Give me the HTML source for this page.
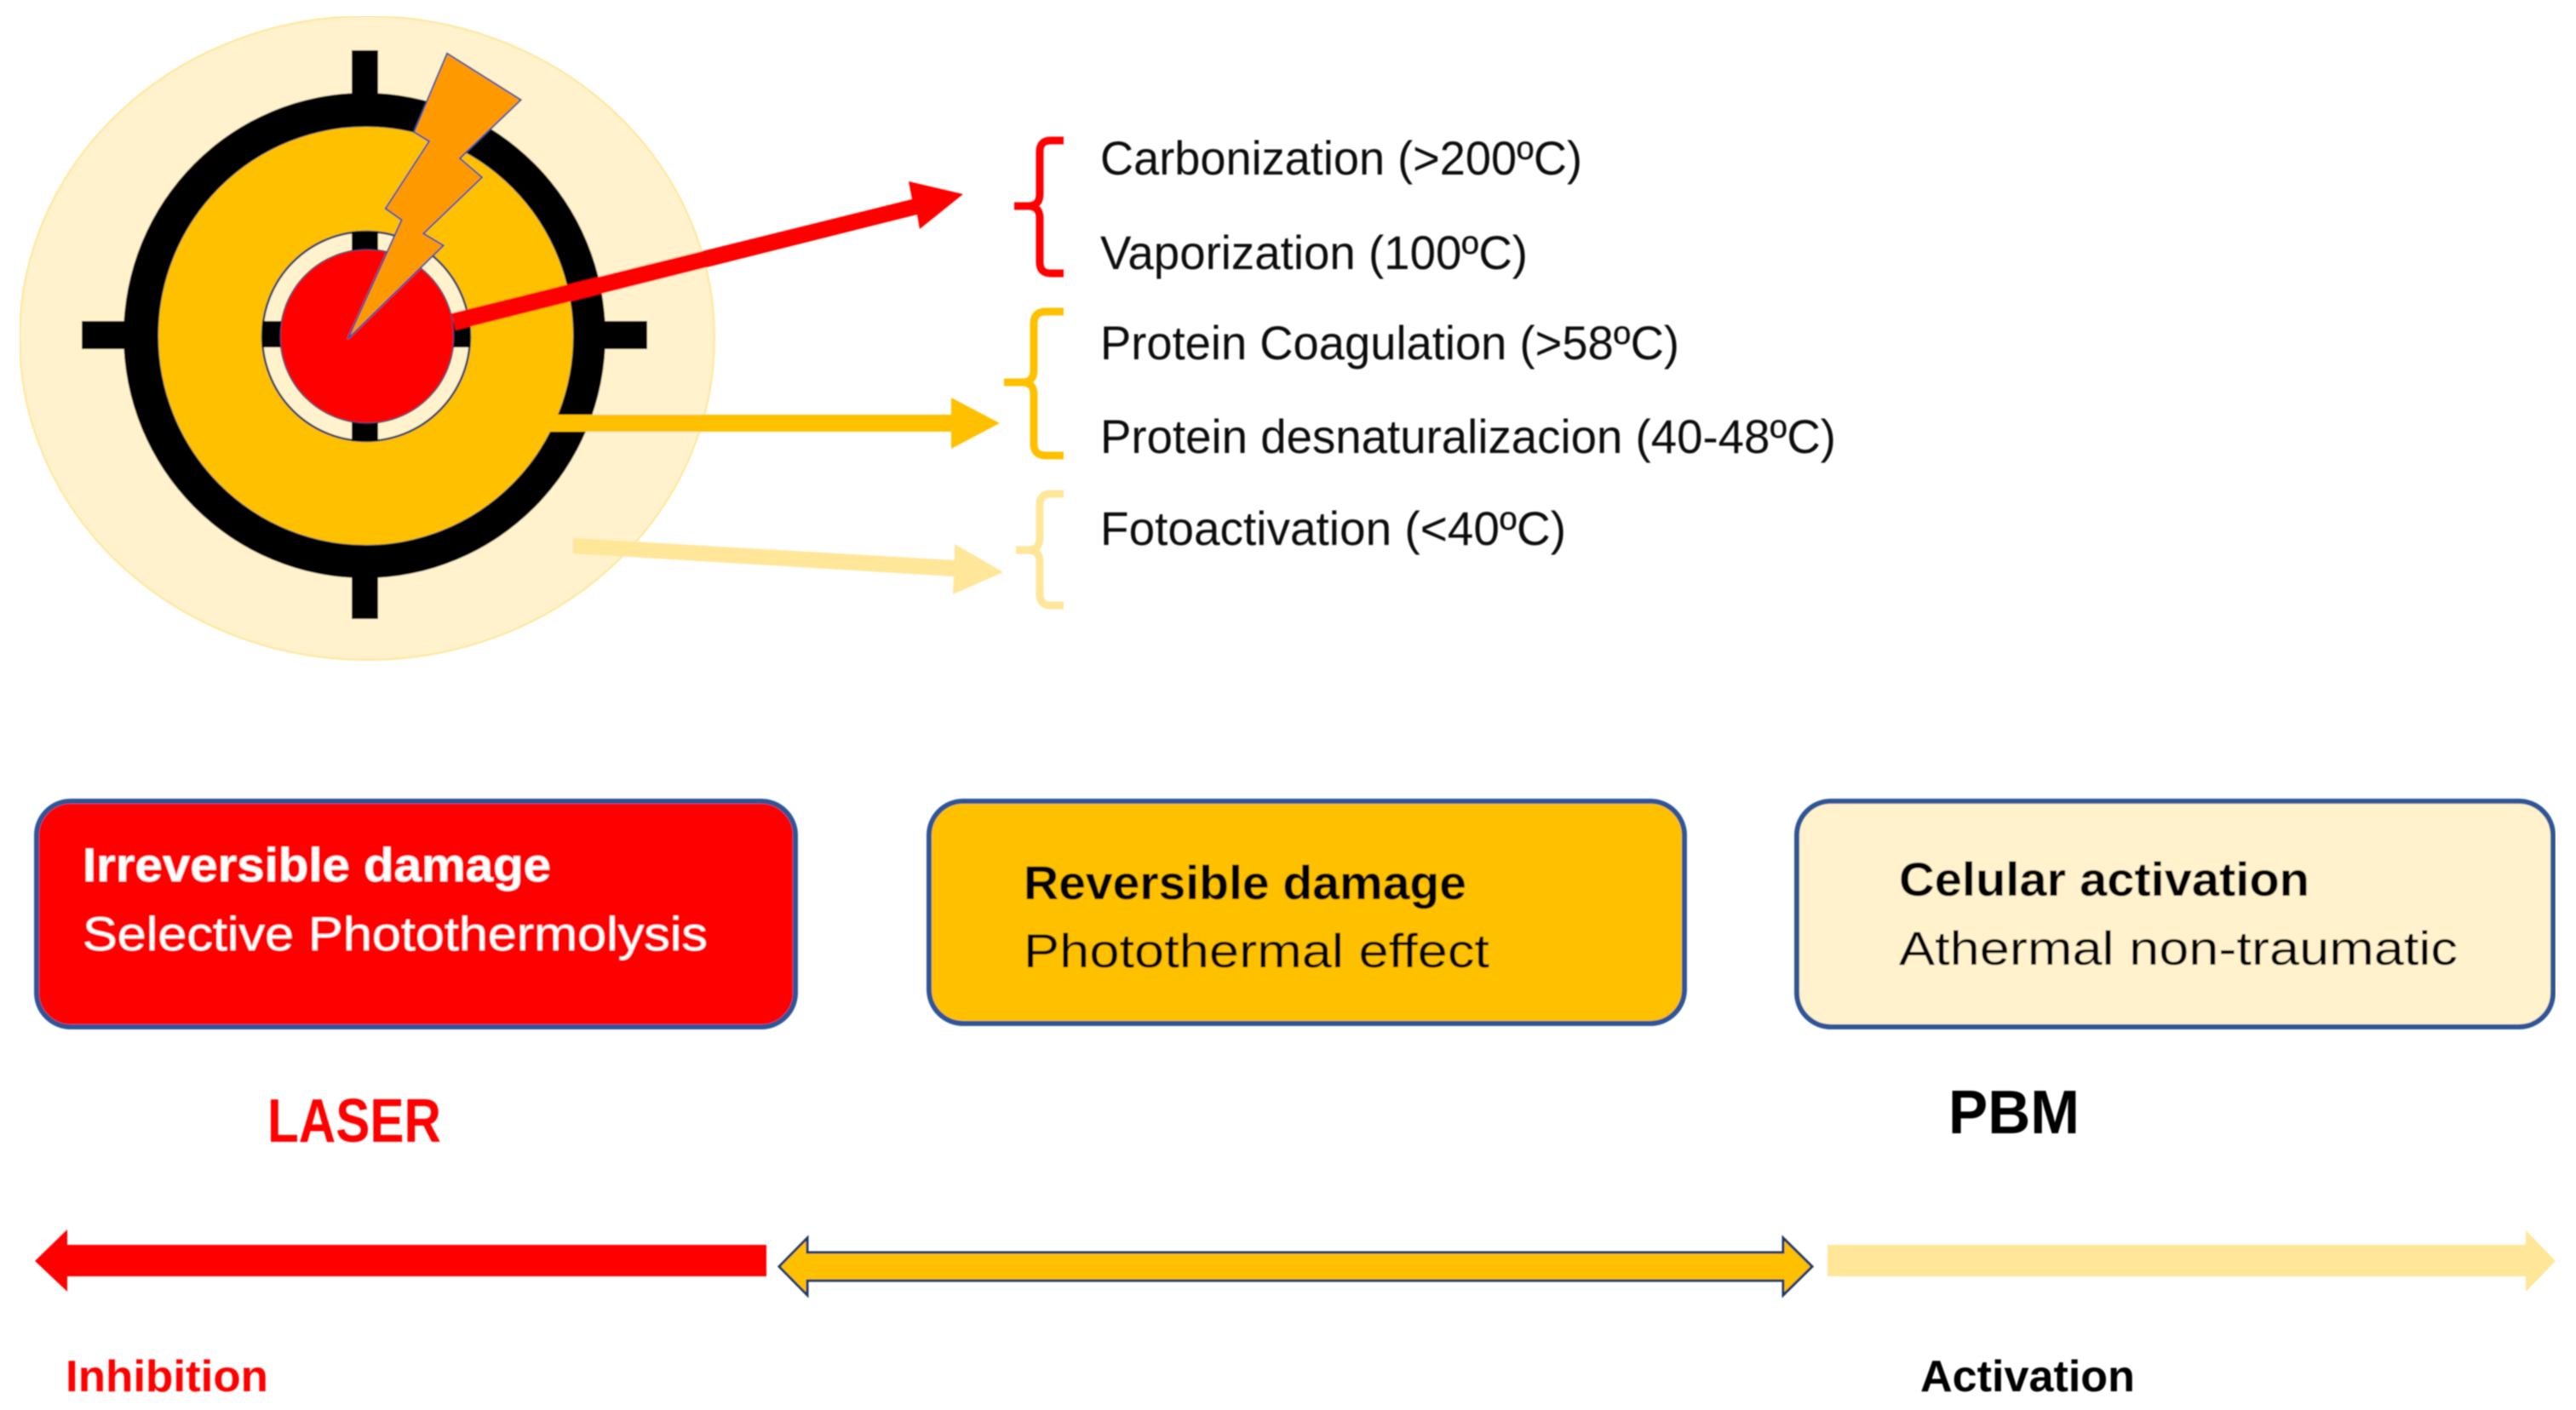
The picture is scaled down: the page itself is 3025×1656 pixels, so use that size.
<!DOCTYPE html>
<html><head><meta charset="utf-8"><style>
html,body{margin:0;padding:0;background:#fff;width:3025px;height:1656px;overflow:hidden}
svg{display:block}
text{font-family:"Liberation Sans",sans-serif;font-size:56px}
.b{font-weight:bold}
</style></head><body>
<svg width="3025" height="1656" viewBox="0 0 3025 1656" xmlns="http://www.w3.org/2000/svg">
<defs><filter id="s" x="0" y="0" width="100%" height="100%"><feGaussianBlur stdDeviation="0.8"/></filter></defs>
<rect width="3025" height="1656" fill="#fff"/>
<g filter="url(#s)">
<ellipse cx="431" cy="397" rx="408" ry="378" fill="#FFF2CC" stroke="#FFE699" stroke-width="2"/>
<rect x="413" y="59" width="31" height="60" fill="#000"/>
<rect x="413" y="670" width="31" height="57" fill="#000"/>
<rect x="96" y="377" width="60" height="33" fill="#000"/>
<rect x="700" y="377" width="60" height="33" fill="#000"/>
<ellipse cx="428" cy="394" rx="283" ry="285" fill="#000"/>
<ellipse cx="429.5" cy="394.5" rx="244" ry="246" fill="#FFC000" stroke="#1F3864" stroke-width="1"/>
<ellipse cx="430" cy="395" rx="122" ry="123" fill="#FFF2CC" stroke="#1F3864" stroke-width="2.5"/>
<rect x="413" y="272" width="31" height="24" fill="#000"/>
<rect x="413" y="494" width="31" height="24" fill="#000"/>
<rect x="308" y="377" width="24" height="31" fill="#000"/>
<rect x="530" y="377" width="22" height="31" fill="#000"/>
<ellipse cx="431" cy="395" rx="102" ry="102" fill="#FF0000" stroke="#1F3864" stroke-width="1.5"/>
<polygon points="673,632 1121,658 1121,639 1178,672 1119,698 1120,677 673,650" fill="#FFE699"/>
<polygon points="643,487 1117,487 1117,467 1174,497 1117,527 1117,507 643,507" fill="#FFC000"/>
<polygon points="525,62.7 611.7,117.3 540,186 566,208.3 497.3,274.3 520.7,288.3 408.3,398.3 471.7,258.3 452.7,245 504,166 486,155" fill="#FF9900" stroke="#2F5597" stroke-width="2"/>
<polygon points="530,368 1071,234 1067,213 1131,228 1080,269 1077,252 535,388" fill="#FF0000"/>
<g fill="none" stroke-width="9">
<path d="M1249,165 H1234 Q1221,165 1221,178 V228 Q1221,242 1207,242 H1191 H1207 Q1221,242 1221,256 V308 Q1221,321 1234,321 H1249" stroke="#FF0000"/>
<path d="M1249,366 H1228 Q1214,366 1214,380 V435 Q1214,449 1200,449 H1179 H1200 Q1214,449 1214,463 V521 Q1214,535 1228,535 H1249" stroke="#FFC000"/>
<path d="M1249,580 H1234 Q1221,580 1221,593 V632 Q1221,646 1207,646 H1193 H1207 Q1221,646 1221,660 V698 Q1221,711 1234,711 H1249" stroke="#FFE699"/>
</g>
<g fill="#111">
<text x="1292" y="205" textLength="566" lengthAdjust="spacingAndGlyphs">Carbonization (&gt;200ºC)</text>
<text x="1292" y="316" textLength="502" lengthAdjust="spacingAndGlyphs">Vaporization (100ºC)</text>
<text x="1292" y="422" textLength="680" lengthAdjust="spacingAndGlyphs">Protein Coagulation (&gt;58ºC)</text>
<text x="1292" y="532" textLength="864" lengthAdjust="spacingAndGlyphs">Protein desnaturalizacion (40-48ºC)</text>
<text x="1292" y="640" textLength="547" lengthAdjust="spacingAndGlyphs">Fotoactivation (&lt;40ºC)</text>
</g>
<rect x="43" y="941" width="891" height="265" rx="40" fill="#FF0000" stroke="#2F5597" stroke-width="6"/>
<rect x="1091" y="941" width="887" height="261" rx="40" fill="#FFC000" stroke="#2F5597" stroke-width="6"/>
<rect x="2110" y="941" width="888" height="265" rx="40" fill="#FFF2CC" stroke="#2F5597" stroke-width="6"/>
<text class="b" x="97" y="1035" fill="#fff" textLength="550" lengthAdjust="spacingAndGlyphs">Irreversible damage</text>
<text x="97" y="1116" fill="#fff" textLength="734" lengthAdjust="spacingAndGlyphs">Selective Photothermolysis</text>
<text class="b" x="1202" y="1056" fill="#000" textLength="520" lengthAdjust="spacingAndGlyphs">Reversible damage</text>
<text x="1202" y="1136" fill="#000" textLength="547" lengthAdjust="spacingAndGlyphs">Photothermal effect</text>
<text class="b" x="2230" y="1052" fill="#000" textLength="482" lengthAdjust="spacingAndGlyphs">Celular activation</text>
<text x="2230" y="1133" fill="#000" textLength="656" lengthAdjust="spacingAndGlyphs">Athermal non-traumatic</text>
<text class="b" x="314" y="1341" fill="#FF0000" style="font-size:72px" textLength="204" lengthAdjust="spacingAndGlyphs">LASER</text>
<text class="b" x="2288" y="1331" fill="#000" style="font-size:72px" textLength="154" lengthAdjust="spacingAndGlyphs">PBM</text>
<text class="b" x="77" y="1634" fill="#FF0000" style="font-size:52px" textLength="238" lengthAdjust="spacingAndGlyphs">Inhibition</text>
<text class="b" x="2255" y="1634" fill="#000" style="font-size:52px" textLength="252" lengthAdjust="spacingAndGlyphs">Activation</text>
<polygon points="41,1481 79,1444 79,1462 900,1462 900,1499 79,1499 79,1517" fill="#FF0000"/>
<polygon points="915,1487.5 948,1454 948,1471 2094,1471 2094,1454 2128,1487.5 2094,1521 2094,1504 948,1504 948,1521" fill="#FFC000" stroke="#1F3864" stroke-width="3"/>
<polygon points="2146,1462 2966,1462 2966,1445 3001,1481 2966,1517 2966,1499 2146,1499" fill="#FFE699"/>
</g>
</svg>
</body></html>
